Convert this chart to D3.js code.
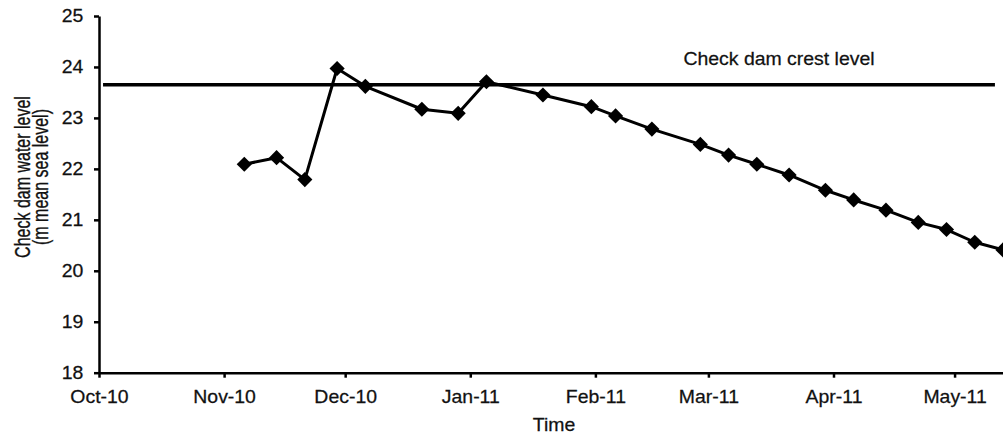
<!DOCTYPE html>
<html>
<head>
<meta charset="utf-8">
<script src="https://cdn.jsdelivr.net/npm/d3@7"></script>
<style>
  html, body { margin: 0; padding: 0; background: #fff; }
  svg { display: block; }
  text { font-family: "Liberation Sans", Arial, sans-serif; fill: #111; stroke: #111; stroke-width: 0.25px; }
</style>
</head>
<body>
<svg id="chart" width="1003" height="436"></svg>
<script>
// ---- data ----
const dates = ["2010-11-06","2010-11-14","2010-11-21","2010-11-29","2010-12-06","2010-12-20","2010-12-29",
  "2011-01-05","2011-01-19","2011-01-31","2011-02-06","2011-02-15","2011-02-27","2011-03-06","2011-03-13",
  "2011-03-21","2011-03-30","2011-04-06","2011-04-14","2011-04-22","2011-04-29","2011-05-06","2011-05-13"];
const levels = [22.09,22.22,21.79,23.97,23.62,23.17,23.09,23.71,23.45,23.22,23.04,22.78,22.48,22.27,22.09,
  21.88,21.58,21.39,21.19,20.95,20.81,20.56,20.41];
const crestLevel = 23.65;
const crestStart = "2010-10-02";
const crestEnd = "2011-05-11";
const xTickDates = ["2010-10-01","2010-11-01","2010-12-01","2011-01-01","2011-02-01","2011-03-01","2011-04-01","2011-05-01"];
const xTickLabels = ["Oct-10","Nov-10","Dec-10","Jan-11","Feb-11","Mar-11","Apr-11","May-11"];
const yTicks = [18,19,20,21,22,23,24,25];
const xDomain = ["2010-10-01","2011-05-13"];
const yDomain = [18,25];
const crestLabel = "Check dam crest level";
const xTitle = "Time";
const yTitle = ["Check dam water level", "(m mean sea level)"];

// ---- layout ----
const parse = d3.utcParse("%Y-%m-%d");
const FS = 18;
const SX = 1.08; // horizontal glyph stretch of the reference
const svg = d3.select("#chart");
const x = d3.scaleUtc().domain(xDomain.map(parse)).range([99, 1003]);
const y = d3.scaleLinear().domain(yDomain).range([372.7, 16]);

const data = dates.map((d, i) => ({ date: parse(d), v: levels[i] }));

// axes
const xAxis = d3.axisBottom(x)
  .tickValues(xTickDates.map(parse))
  .tickFormat((d, i) => xTickLabels[i])
  .tickSize(5).tickSizeOuter(0).tickPadding(12.5);
const gx = svg.append("g").attr("transform", `translate(0,${y(18)})`).call(xAxis);
gx.select(".domain").attr("stroke", "#000").attr("stroke-width", 2.5);
gx.selectAll(".tick line").attr("stroke", "#000").attr("stroke-width", 2.5);
gx.selectAll(".tick text").attr("font-size", FS).attr("fill", "#111")
  .attr("font-family", "'Liberation Sans', Arial, sans-serif")
  .attr("transform", `scale(${SX},1)`);

const yAxis = d3.axisLeft(y).tickValues(yTicks).tickFormat(d3.format("d"))
  .tickSize(5).tickSizeOuter(0);
const gy = svg.append("g").attr("transform", `translate(${x(parse(xDomain[0]))},0)`).call(yAxis);
gy.select(".domain").attr("stroke", "#000").attr("stroke-width", 2.5);
gy.selectAll(".tick line").attr("stroke", "#000").attr("stroke-width", 2.5);
gy.selectAll(".tick text").attr("font-size", FS).attr("fill", "#111")
  .attr("font-family", "'Liberation Sans', Arial, sans-serif")
  .attr("x", -14.6).attr("transform", `scale(${SX},1)`);

// crest line
svg.append("line")
  .attr("x1", x(parse(crestStart))).attr("x2", x(parse(crestEnd)))
  .attr("y1", y(crestLevel)).attr("y2", y(crestLevel))
  .attr("stroke", "#000").attr("stroke-width", 3.5);

svg.append("text")
  .attr("transform", `translate(779,65) scale(${SX},1)`)
  .attr("text-anchor", "middle").attr("font-size", FS)
  .text(crestLabel);

// data line
const line = d3.line().x(d => x(d.date)).y(d => y(d.v));
svg.append("path").datum(data)
  .attr("d", line).attr("fill", "none")
  .attr("stroke", "#000").attr("stroke-width", 3).attr("stroke-linejoin", "round");

const sym = d3.symbol().type(d3.symbolSquare).size(115);
svg.selectAll(".pt").data(data).enter().append("path")
  .attr("class", "pt")
  .attr("d", sym)
  .attr("transform", d => `translate(${x(d.date)},${y(d.v)}) rotate(45)`)
  .attr("fill", "#000");

// titles
svg.append("text")
  .attr("transform", `translate(554,431) scale(${SX},1)`)
  .attr("text-anchor", "middle").attr("font-size", FS)
  .text(xTitle);

svg.append("text")
  .attr("transform", `translate(30,177) scale(1.4,1) rotate(-90)`)
  .attr("text-anchor", "middle").attr("font-size", 16)
  .text(yTitle[0]);
svg.append("text")
  .attr("transform", `translate(47.5,177) scale(1.4,1) rotate(-90)`)
  .attr("text-anchor", "middle").attr("font-size", 16)
  .text(yTitle[1]);
</script>
</body>
</html>
